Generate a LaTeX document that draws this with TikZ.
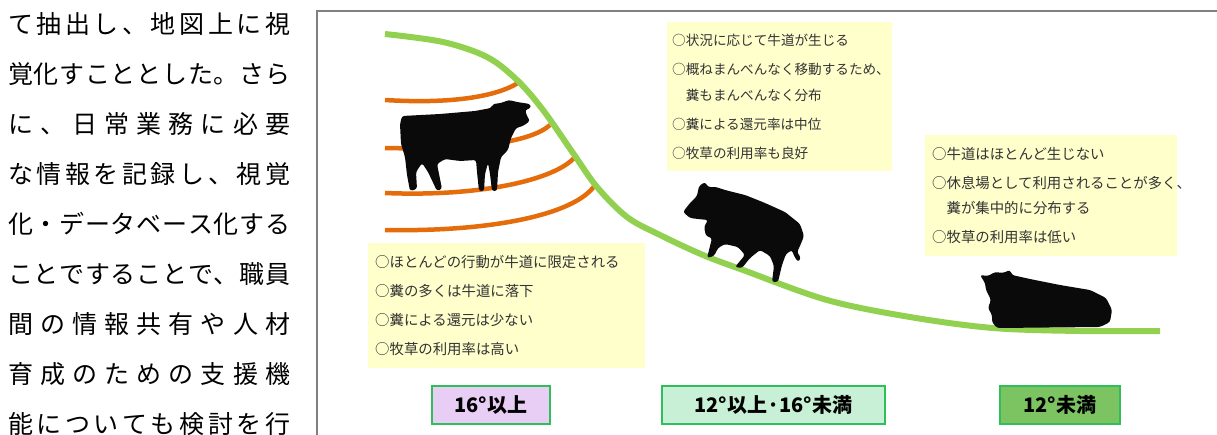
\documentclass[tikz,border=0pt]{standalone}
\usepackage{fontspec}
\setmainfont{Noto Sans CJK JP}
\usepackage{tikz}
\definecolor{grassgreen}{RGB}{146,208,80}
\definecolor{trackorange}{RGB}{228,108,10}
\definecolor{noteyellow}{RGB}{255,255,204}
\definecolor{edgegreen}{RGB}{46,190,90}
\definecolor{steepfill}{RGB}{232,206,245}
\definecolor{middlefill}{RGB}{200,240,214}
\definecolor{flatfill}{RGB}{124,196,98}
\tikzset{
	bodystyle/.style={anchor=base west,inner sep=0,font=\fontsize{25}{25}\selectfont},
	notestyle/.style={rectangle,fill=noteyellow,anchor=north west,align=left,inner xsep=7,inner ysep=12,text=black!80,font=\fontsize{14.4}{25.5}\selectfont},
	gradestyle/.style={rectangle,draw=edgegreen,line width=1.5,minimum height=38,font=\bfseries\fontsize{20}{20}\selectfont},
	slopestyle/.style={draw=grassgreen,line width=6},
	trackstyle/.style={draw=trackorange,line width=4.5},
	cowstyle/.style={fill=black!96,rounded corners=2.5}
}
\ExplSyntaxOn
\NewDocumentCommand\spreadline{m}
	{\makebox[282pt][s]{\tl_map_inline:nn{#1}{##1\hfil}\unskip}}
\ExplSyntaxOff

\begin{document}
\begin{tikzpicture}[x=1pt,y=-1pt]
	\useasboundingbox (0,0) rectangle (1217,434);
	\clip (0,0) rectangle (1217,434);
	\node[bodystyle] (line1) at (8,33) {\spreadline{て抽出し、地図上に視}};
	\node[bodystyle] (line2) at (8,83) {\spreadline{覚化すこととした。さら}};
	\node[bodystyle] (line3) at (8,133) {\spreadline{に、日常業務に必要}};
	\node[bodystyle] (line4) at (8,183) {\spreadline{な情報を記録し、視覚}};
	\node[bodystyle] (line5) at (8,233) {\spreadline{化・データベース化する}};
	\node[bodystyle] (line6) at (8,283) {\spreadline{ことですることで、職員}};
	\node[bodystyle] (line7) at (8,333) {\spreadline{間の情報共有や人材}};
	\node[bodystyle] (line8) at (8,383) {\spreadline{育成のための支援機}};
	\node[bodystyle] (line9) at (8,433) {\spreadline{能についても検討を行}};
	\draw[gray,line width=2] (317,11) rectangle (1260,470);
	\draw[trackstyle] (385,100) .. controls (450,104) and (495,97) .. (518,83);
	\draw[trackstyle] (385,148) .. controls (470,150) and (530,143) .. (550,125);
	\draw[trackstyle] (385,193) .. controls (480,197) and (555,180) .. (575,157);
	\draw[trackstyle] (385,230) .. controls (490,232) and (575,215) .. (595,185);
	\draw[slopestyle] plot[smooth,tension=0.55] coordinates {(385,34) (443,42) (487,57) (517,80) (543,110) (573,153) (597,187) (627,217) (660,235) (703,255) (743,270) (827,300) (910,317) (993,328) (1080,331) (1160,331)};
	\fill[cowstyle] (402,116) -- (440,114) -- (475,111) -- (491,108) -- (493,104) -- (501,103) -- (509,100) -- (517,102) -- (530,104) -- (531,108) -- (525,110) -- (527,116) -- (530,121) -- (523,126) -- (516,128) -- (511,138) -- (508,150) -- (501,157) -- (498,172) -- (497,191) -- (492,191) -- (490,174) -- (488,163) -- (485,174) -- (484,191) -- (479,191) -- (477,172) -- (476,160) -- (460,161) -- (445,159) -- (437,164) -- (442,189) -- (437,191) -- (428,172) -- (422,163) -- (416,172) -- (417,189) -- (410,191) -- (407,175) -- (405,157) -- (401,144) -- (400,124) -- cycle;
	\fill[cowstyle] (683,212) -- (690,203) -- (697,196) -- (699,186) -- (705,182) -- (708,187) -- (716,187) -- (725,190) -- (745,195) -- (765,203) -- (785,212) -- (800,224) -- (804,236) -- (800,246) -- (797,252) -- (801,258) -- (798,262) -- (794,256) -- (792,250) -- (786,254) -- (782,265) -- (778,282) -- (772,282) -- (774,266) -- (770,256) -- (760,250) -- (750,258) -- (742,268) -- (735,267) -- (745,255) -- (738,247) -- (725,244) -- (718,248) -- (714,256) -- (707,258) -- (710,246) -- (712,238) -- (706,236) -- (704,227) -- (708,220) -- (698,219) -- (690,218) -- cycle;
	\fill[cowstyle] (980,275) -- (988,276) -- (995,272) -- (1003,273) -- (1010,270) -- (1012,275) -- (1030,279) -- (1060,285) -- (1090,290) -- (1106,298) -- (1112,310) -- (1110,322) -- (1100,327) -- (997,328) -- (992,322) -- (992,315) -- (988,308) -- (991,300) -- (986,290) -- (985,283) -- cycle;
	\node[notestyle,text width=263] (steepnote) at (368,243) {○ほとんどの行動が牛道に限定される\\[3.5pt]○糞の多くは牛道に落下\\[3.5pt]○糞による還元は少ない\\[3.5pt]○牧草の利用率は高い};
	\node[notestyle,inner xsep=5,text width=215,font=\fontsize{13.6}{25.5}\selectfont] (middlenote) at (667,22) {○状況に応じて牛道が生じる\\[3.5pt]○概ねまんべんなく移動するため、\\\hspace*{1em}糞もまんべんなく分布\\[3.5pt]○糞による還元率は中位\\[3.5pt]○牧草の利用率も良好};
	\node[notestyle,text width=238] (flatnote) at (925,135) {○牛道はほとんど生じない\\[3.5pt]○休息場として利用されることが多く、\\\hspace*{1em}糞が集中的に分布する\\[3.5pt]○牧草の利用率は低い};
	\node[gradestyle,fill=steepfill,minimum width=118] (steep) at (491,405) {16°以上};
	\node[gradestyle,fill=middlefill,minimum width=223] (middle) at (773.5,405) {12°以上·16°未満};
	\node[gradestyle,fill=flatfill,minimum width=120] (flat) at (1060,405) {12°未満};
\end{tikzpicture}
\end{document}
